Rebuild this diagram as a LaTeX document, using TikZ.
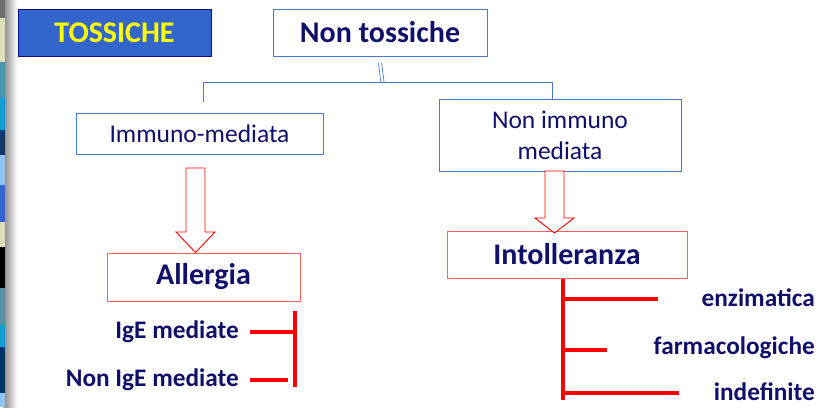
\documentclass[tikz,border=0pt]{standalone}
\usepackage{fontspec}
\setmainfont{Carlito}
\definecolor{navy}{HTML}{10106A}
\definecolor{lblue}{HTML}{4A78D0}
\definecolor{tblue}{HTML}{3366CC}
\definecolor{tborder}{HTML}{101080}
\definecolor{tyellow}{HTML}{FFFF00}
\definecolor{rbox}{HTML}{FF6060}
\definecolor{rline}{HTML}{FF0000}
\definecolor{sgray}{HTML}{6E6E6E}
\definecolor{sbeige}{HTML}{DEDEB4}
\definecolor{steal}{HTML}{5090B0}
\definecolor{scyan}{HTML}{10A0D0}
\definecolor{sdark}{HTML}{103868}
\definecolor{slight}{HTML}{90C4F4}
\definecolor{sblue}{HTML}{3466D0}
\definecolor{sblack}{HTML}{000000}
\definecolor{ssteel}{HTML}{5490A8}
\definecolor{snavy}{HTML}{003466}
\tikzset{
  bluebox/.style={draw=lblue, line width=0.9pt, fill=white, inner sep=0pt, text=navy, align=center},
  redbox/.style={draw=rbox, line width=1pt, fill=white, inner sep=0pt, text=navy},
  bigbold/.style={font=\fontsize{30}{36}\selectfont\bfseries},
  reg/.style={font=\fontsize{25.5}{31}\selectfont},
  lab/.style={font=\fontsize{25.3}{30}\selectfont\bfseries, text=navy, inner sep=0pt},
  conn/.style={draw=lblue, line width=0.9pt},
  rl/.style={draw=rline, line width=3.2pt},
  blockarrow/.style={draw=rline, line width=0.9pt, fill=white, line join=miter},
}
\begin{document}
\begin{tikzpicture}[x=1pt,y=-1pt]
\useasboundingbox (0,0) rectangle (837,407);
% left edge strip
\shade[left color=black!45, right color=white] (4,0) rectangle (17,407);
\foreach \ya/\yb/\c in {0/18/sgray, 18/62/sbeige, 62/98/steal, 98/130/scyan, 130/155/sdark, 155/185/slight, 185/222/sblue, 222/247/sbeige, 247/288/sblack, 288/325/ssteel, 325/347/scyan, 347/393/snavy, 393/407/slight}
  \fill[\c] (0,\ya) rectangle (5,\yb);

% top boxes
\node[draw=tborder, line width=0.9pt, fill=tblue, text=tyellow, inner sep=0pt,
      minimum width=193pt, minimum height=47pt, bigbold]
      (tox) at (114.5,32.5) {TOSSICHE};
\node[bluebox, bigbold, minimum width=214pt, minimum height=47pt] (nt) at (380,32.5) {Non tossiche};

% second level
\node[bluebox, reg, minimum width=247pt, minimum height=41pt] (im) at (199.5,133.5) {Immuno-mediata};
\node[bluebox, reg, minimum width=242pt, minimum height=72pt] (nim) at (560,135) {Non immuno\\mediata};

% connectors
\coordinate (j) at (382.5,82.5);
\draw[conn, line width=0.7pt] ([xshift=-1.6pt]nt.south |- 0,63) -- ([xshift=-1.6pt]j);
\draw[conn, line width=0.7pt] ([xshift=1.6pt]nt.south |- 0,63) -- ([xshift=1.6pt]j);
\coordinate (jl) at (203,82.5);
\coordinate (jr) at (552,82.5);
\draw[conn] (203,102) -- (jl) -- (jr) -- (jr |- nim.north);

% third level
\node[redbox, bigbold, minimum width=193pt, minimum height=48pt] (all) at (203.5,277) {Allergia};
\node[redbox, bigbold, minimum width=240pt, minimum height=47pt] (int) at (567,254.5) {Intolleranza};

% block arrows
\draw[blockarrow] (186,168) -- (205,168) -- (205,232) -- (215,232) -- (all.north -| 195.5,0) -- (176,232) -- (186,232) -- cycle;
\draw[blockarrow] (545,171) -- (564,171) -- (564,218) -- (574,218) -- (554.5,233) -- (535,218) -- (545,218) -- cycle;

% allergia sub-items
\node[lab, anchor=east] (ige) at (239,332) {IgE mediate};
\node[lab, anchor=east] (nige) at (239,380) {Non IgE mediate};
\coordinate (av1) at (295,311);
\coordinate (av2) at (295,387);
\draw[rl] (av1) -- (av2);
\draw[rl] ([xshift=11pt]ige.east) -- (ige.east -| av1);
\draw[rl] ([xshift=11pt]nige.east) -- (288,380);

% intolleranza sub-items
\node[lab, anchor=east] (enz) at (815,298) {enzimatica};
\node[lab, anchor=east] (far) at (815,348) {farmacologiche};
\node[lab, anchor=east] (ind) at (815,392) {indefinite};
\coordinate (ib) at (563,400);
\draw[rl] (int.south -| ib) -- (ib);
\draw[rl] (563,299) -- (658,299);
\draw[rl] (563,350) -- (607,350);
\draw[rl] (563,393) -- (679,393);
\end{tikzpicture}
\end{document}
